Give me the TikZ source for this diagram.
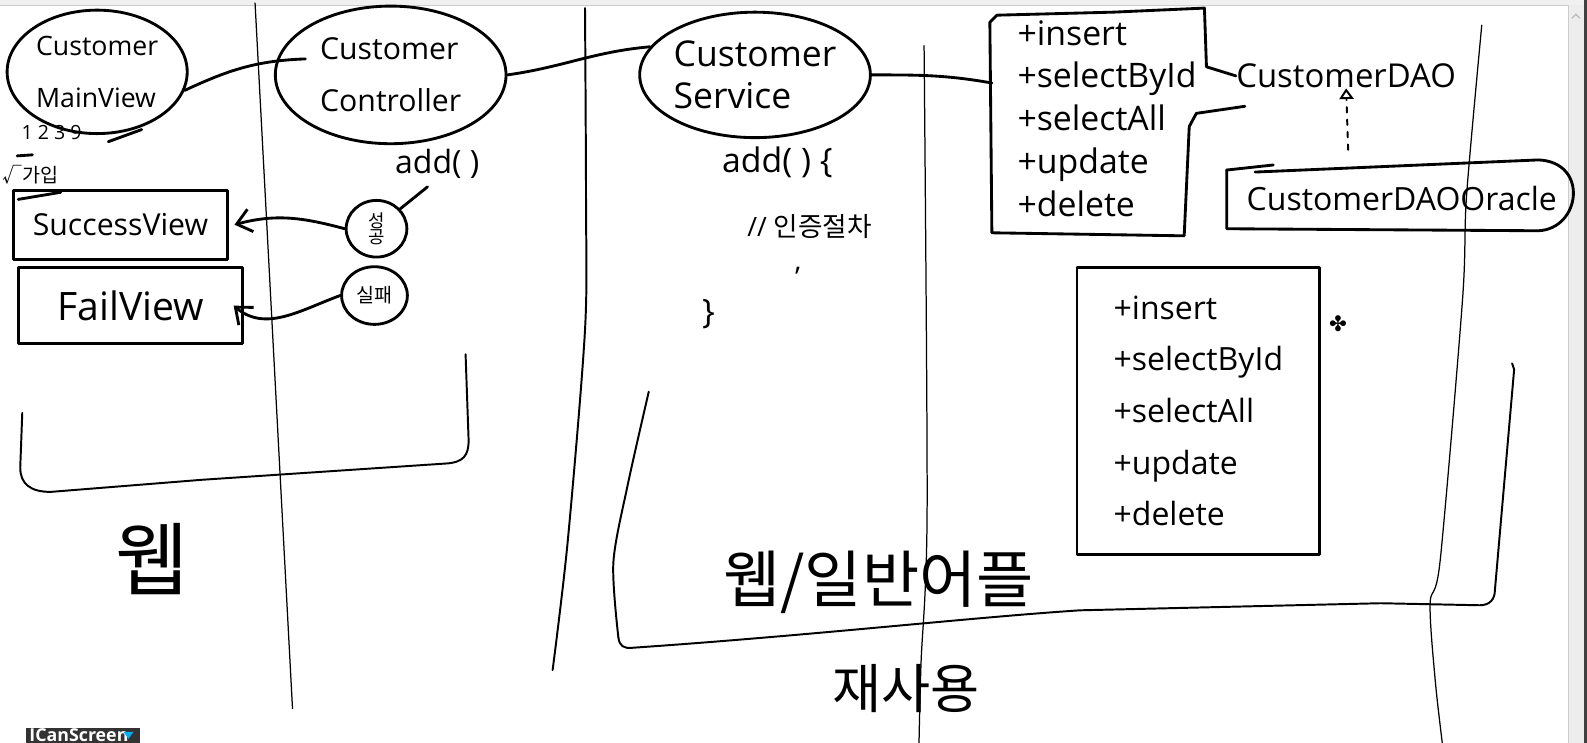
\documentclass[tikz,border=0pt]{standalone}
\usepackage{fontspec}
\setmainfont{Open Sans}
\newfontfamily\kr{Noto Sans CJK KR}
\newfontfamily\sym{DejaVu Sans}
\usetikzlibrary{shapes.geometric, arrows.meta}

\begin{document}
\begin{tikzpicture}[x=0.02cm, y=-0.02cm,
	pen/.style={line width=1.6pt, line cap=round, line join=round},
	rule/.style={line width=1.1pt, line cap=round, line join=round},
	fine/.style={line width=0.7pt, line cap=round},
	sz/.style={font=\fontsize{#1}{#1}\selectfont, inner sep=0pt},
	krsz/.style={font=\kr\fontsize{#1}{#1}\selectfont, inner sep=0pt},
	bubble/.style={pen, draw, ellipse, inner sep=0pt, align=left},
	box/.style={pen, draw, rectangle, inner sep=0pt},
	barb/.style={-{Straight Barb[length=8pt, width=13pt]}}]
\useasboundingbox (0,0) rectangle (1568,734);

% screen frame
\fill[black!6] (0,0) rectangle (1568,5);
\fill[black!7] (1550,5) rectangle (1568,734);
\draw[black!20, line width=0.4pt] (0,5) -- (1550,5) -- (1550,734);
\fill[black!75] (1565,0) rectangle (1568,734);
\draw[black!30, line width=0.6pt] (1553,18) -- (1557,14) -- (1561,18);

% dividers
\draw[fine] (252,3) -- (289,700);
\draw[rule] plot[smooth] coordinates {(578,8) (579,200) (578,326) (561,534) (546,662)};
\draw[fine] plot[smooth] coordinates {(913,45) (916,504) (910,655) (908,734)};
\draw[fine] plot[smooth] coordinates {(1464,25) (1449,193) (1445,296) (1423,553) (1413,596) (1418,672) (1425,734)};

% view / controller / service
\node[bubble, minimum width=3.56cm, minimum height=2.44cm, sz=15] (mainview) at (96,71) {Customer\\[14pt]MainView};
\node[bubble, minimum width=4.56cm, minimum height=2.72cm, sz=17] (controller) at (386,74) {Customer\\[12pt]Controller};
\node[bubble, minimum width=4.56cm, minimum height=2.48cm, sz=20] (service) at (746,74) {Customer\\[4pt]Service};

\draw[pen] (mainview.-12) to[out=25, in=182] ([xshift=16pt]controller.172);
\draw[pen] (controller.east) to[out=8, in=185] (service.165);
\coordinate (daoin) at (980,82);
\draw[pen] (service.east) to[out=0, in=170] (daoin);

\draw[pen] (107,140) -- (140,128);
\node[sz=11] (nums) at (51,131) {1 2 3 9};
\draw[pen] (17,154) -- (32,153);
\node[krsz=11] (join) at (30,173) {√가입};
\draw[pen] (18,197) -- (60,190);

\node[box, minimum width=4.24cm, minimum height=1.36cm, sz=17] (successview) at (119,222) {SuccessView};
\node[box, minimum width=4.44cm, minimum height=1.5cm, sz=22] (failview) at (129,302) {FailView};

\node[sz=18] (addc) at (432,162) {add( )};
\node[bubble, minimum width=1.2cm, minimum height=1.12cm, krsz=10, align=center] (okmark) at (372,226) {성\\[-1pt]공};
\node[bubble, minimum width=1.3cm, minimum height=1.14cm, krsz=11, align=center] (failmark) at (370,292) {실패};

\draw[pen, shorten <=7pt] (addc.south) -- (okmark.40);
\draw[pen, barb] (okmark.west) to[out=165, in=15] ([xshift=3pt]successview.east);
\draw[pen, barb] (failmark.west) to[out=200, in=-40] ([xshift=-6pt]failview.east);

% bottom-left group
\draw[rule] (22,408) -- (20,462) .. controls (20,478) and (30,486) .. (50,486)
	-- (200,474) -- (440,458) .. controls (458,457) and (463,450) .. (463,435) -- (460,350);
\node[krsz=45] (web) at (150,552) {웹};

% service body
\node[sz=19] (svcadd) at (768,160) {add( ) \{};
\node[sz=15] (auth) at (800,224) {// {\kr 인증절차}};
\node[sz=16] (tick) at (788,274) {'};
\node[sz=19] (svcend) at (700,310) {\}};

% DAO interface
\node[sz=19, anchor=west, align=left] (daoops) at (1005,117) {+insert\\[5pt]+selectById\\[5pt]+selectAll\\[5pt]+update\\[5pt]+delete};
\node[sz=18.5] (daolbl) at (1330,75) {CustomerDAO};
\draw[pen] (daolbl.west) -- (1192,66) -- (1190,8) -- (1100,12) -- (985,15) -- (978,22)
	-- (980,230) -- (1170,233) -- (1175,125) -- (1182,112) -- (1230,105);

\node[sz=18] (oracle) at (1385,196) {CustomerDAOOracle};
\draw[pen] (1212,168) -- (1212,226) -- (1520,228) .. controls (1562,226) and (1570,160) .. (1520,158) -- (1240,170);
\draw[pen] (1212,168) -- (1258,163);
\draw[rule, dash pattern=on 3pt off 4pt, -{Triangle[open, length=6pt, width=8pt]}] (1332,148) -- (daolbl.south);

\node[box, sz=18, minimum width=4.8cm, minimum height=5.68cm, align=left] (ops) at (1184,406) {+insert\\[11pt]+selectById\\[11pt]+selectAll\\[11pt]+update\\[11pt]+delete};
\node[sz=12] (star) at (1322,320) {\sym ✤};

% web / app group
\draw[rule] plot[smooth] coordinates {(641,387) (620,480) (606,556) (611,630)};
\draw[rule] (611,630) .. controls (612,638) and (616,641) .. (625,640)
	.. controls (800,628) and (960,610) .. (1067,603) -- (1364,596) -- (1462,598)
	.. controls (1472,598) and (1477,592) .. (1477,583) -- (1496,365) -- (1494,359);
\node[krsz=35] (webapp) at (868,575) {웹/일반어플};
\node[krsz=30] (reuse) at (895,680) {재사용};

% recorder tab
\fill[black!80] (26,719) rectangle (138,734);
\node[sz=6, text=white, font=\bfseries] (tab) at (78,726) {ICanScreen};
\fill[cyan] (122,723) -- (132,723) -- (127,730) -- cycle;
\end{tikzpicture}
\end{document}
